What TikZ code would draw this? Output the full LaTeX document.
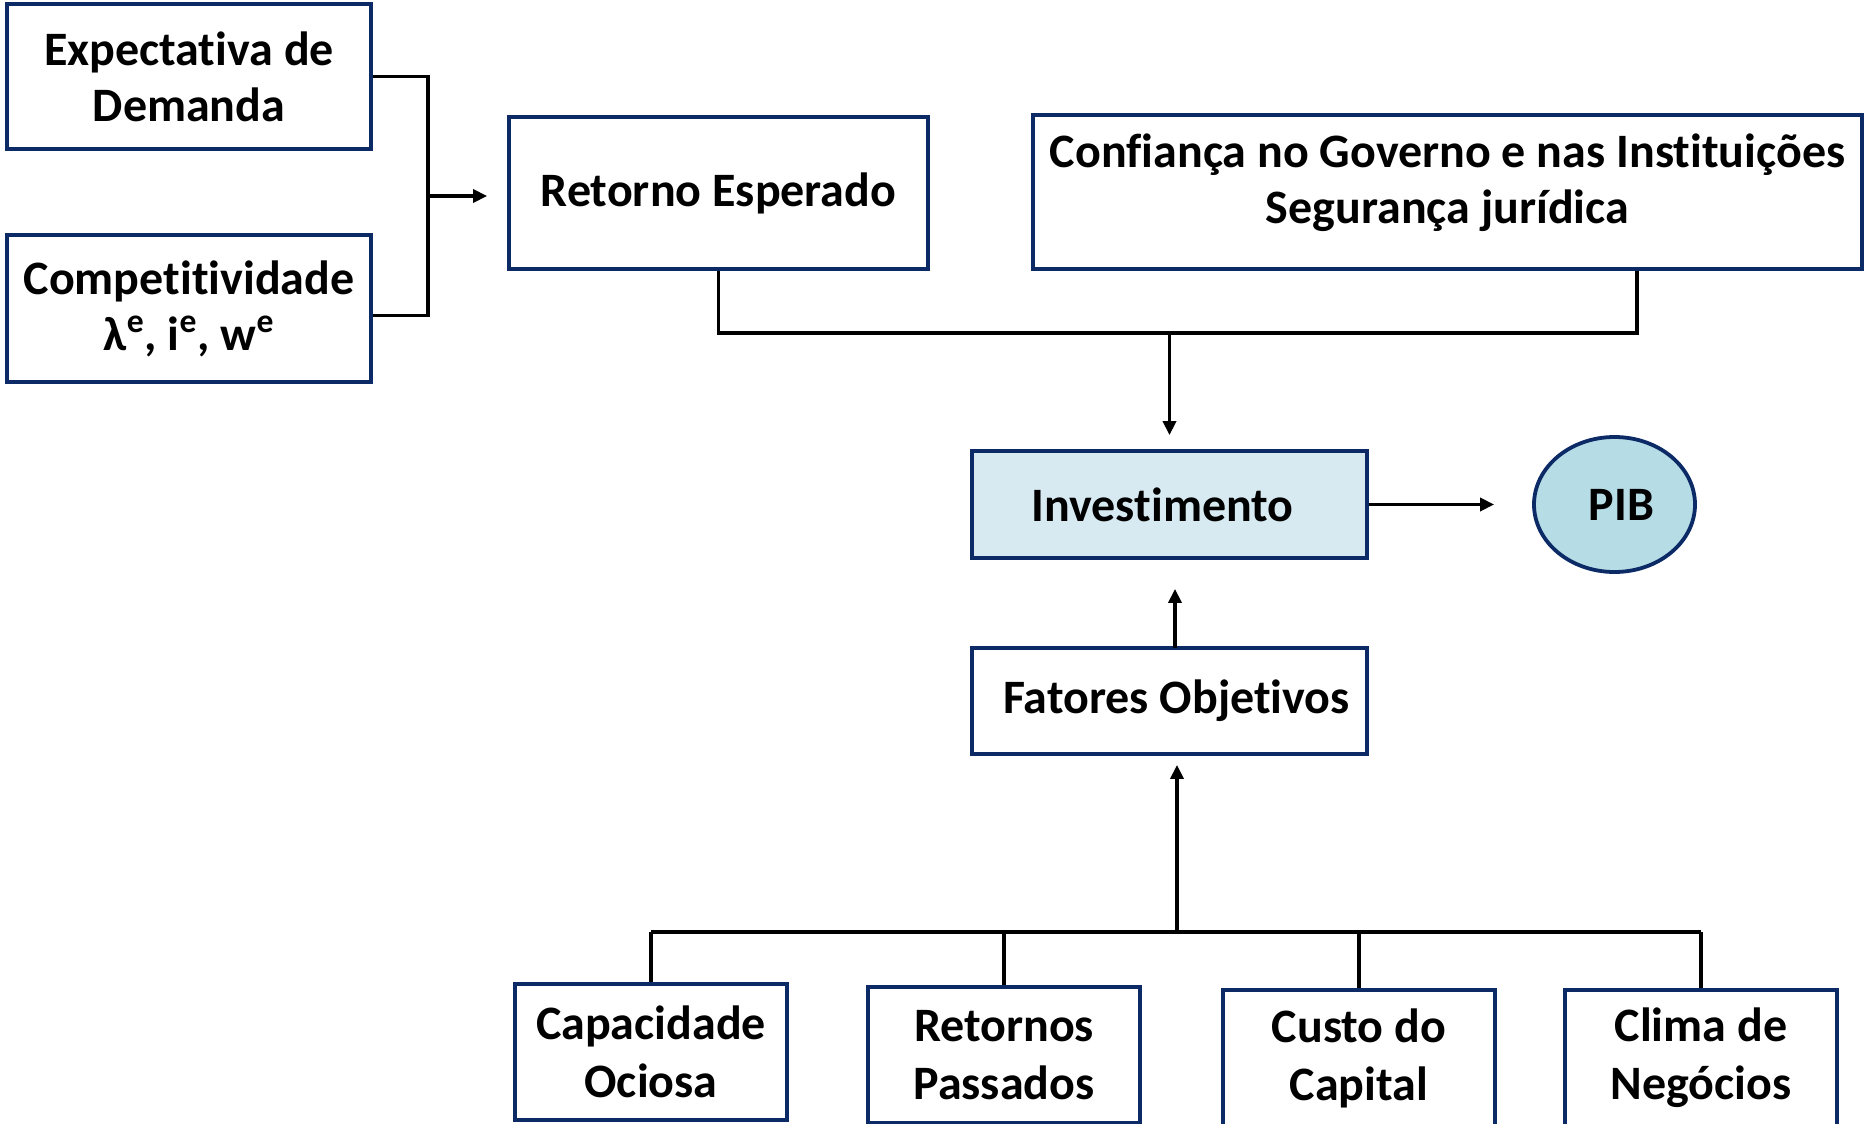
\documentclass[tikz,border=0pt]{standalone}
\usepackage{fontspec}
\setmainfont{Carlito}[Ligatures=NoCommon]
\usetikzlibrary{arrows.meta,shapes.geometric,positioning}
\definecolor{navy}{HTML}{0B2A66}
\definecolor{investfill}{HTML}{D7EAF1}
\definecolor{pibfill}{HTML}{B6DCE6}
\tikzset{
  box/.style={draw=navy, line width=1.9pt, fill=white, align=center, inner sep=0pt,
    font=\fontsize{24}{28}\selectfont\bfseries},
  lowbox/.style={box, minimum width=136pt, minimum height=68pt,
    font=\fontsize{24}{29}\selectfont\bfseries},
  conn/.style={line width=1.9pt, black},
  arr/.style={conn, -{Triangle[length=7pt,width=6.5pt]}},
}

\begin{document}
\begin{tikzpicture}[x=0.5pt, y=-0.5pt]
    \useasboundingbox (0,0) rectangle (1864,1124);

    \node[box, minimum width=182pt, minimum height=72.5pt] at (189, 76.5)(expect){Expectativa de\\Demanda};
    \node[box, minimum width=182pt, minimum height=73.5pt] at (189, 308.5)(compet){Competitividade\\λ\textsuperscript{e}, i\textsuperscript{e}, w\textsuperscript{e}};
    \node[box, minimum width=209.5pt, minimum height=76pt] at (718.5, 193)(retorno){Retorno Esperado};
    \node[box, minimum width=414.5pt, minimum height=77pt] at (1447.5, 192)(confianca){Confiança no Governo e nas Instituições\\Segurança jurídica\\[-15pt]\mbox{}};
    \node[box, fill=investfill, minimum width=197.5pt, minimum height=53.5pt] at (1169.5, 504.5)(invest){Investimento\hspace*{7pt}};
    \node[box, ellipse, fill=pibfill, minimum width=80.5pt, minimum height=67.5pt] at (1614.5, 504.5)(pib){\hspace*{7pt}PIB};
    \node[box, minimum width=197.5pt, minimum height=53pt] at (1169.5, 701)(fatores){\hspace*{7pt}Fatores Objetivos};

    \node[lowbox] at (651, 1052)(capac){Capacidade\\Ociosa};
    \node[lowbox] at (1004, 1055)(retornos){Retornos\\Passados};
    \node[lowbox] at (1359, 1058)(custo){Custo do\\Capital};
    \node[lowbox] at (1701, 1058)(clima){Clima de\\Negócios};

    \coordinate (jl) at (428, 196);
    \coordinate (jt) at (1169.5, 333);
    \coordinate (cjoin) at (1637, 333);
    \coordinate (jb) at (1177, 932);
    \coordinate (jf) at (1175, 648);

    \draw[conn] (expect.east) -| (jl) |- ([yshift=-3.5pt]compet.east);
    \draw[arr, shorten >=10pt] (jl) -- (jl -| retorno.west);

    \draw[conn] (retorno.south) |- (cjoin) -- (cjoin |- confianca.south);
    \draw[arr, shorten >=7pt] (jt) -- (invest.north);

    \draw[arr, shorten >=19pt] (invest.east) -- (pib.west);
    \draw[arr, shorten >=14.5pt] (jf) -- (jf |- invest.south);
    \draw[arr, shorten >=4.5pt] (jb) -- (jb |- fatores.south);

    \draw[conn] (capac.north |- jb) -- (clima.north |- jb);
    \foreach \n in {capac,retornos,custo,clima}
        \draw[conn] (\n.north) -- (\n.north |- jb);
\end{tikzpicture}
\end{document}
